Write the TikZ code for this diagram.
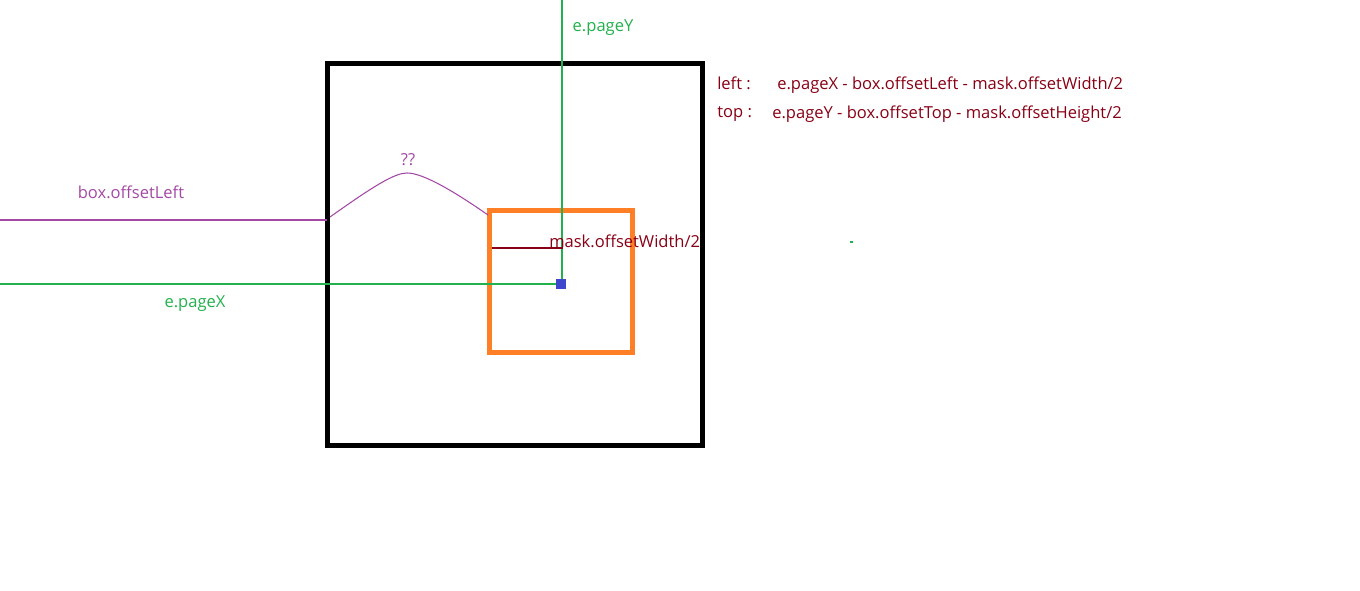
\documentclass[tikz,border=0pt]{standalone}
\usepackage{fontspec}
\setmainfont{Open Sans}
\definecolor{ggreen}{HTML}{22B14C}
\definecolor{gpurple}{HTML}{A349A4}
\definecolor{gorange}{HTML}{FF7F27}
\definecolor{gblue}{HTML}{3F48CC}
\definecolor{gred}{HTML}{880015}
\begin{document}
\begin{tikzpicture}[x=0.75pt,y=-0.75pt,
  lbl/.style={inner sep=0pt,font=\fontsize{12.4pt}{14pt}\selectfont},
  boxline/.style={line width=3.75pt,inner sep=0pt,outer sep=0pt,anchor=north west},
  hair/.style={line width=0.8pt}]
\useasboundingbox (0,0) rectangle (1360,591);
% boxes
\node[draw=black,boxline,minimum width=375*0.75pt,minimum height=382*0.75pt] (box) at (327.5,63.5) {};
\node[draw=gorange,boxline,minimum width=143*0.75pt,minimum height=142*0.75pt] (mask) at (489.5,210.5) {};
% coordinates
\coordinate (ytop) at (562,0);
\coordinate (cur) at (562,284);
\coordinate (xleft) at (0,284);
\coordinate (pleft) at (0,220);
\coordinate (pbox) at (327,220);
\coordinate (c1) at (330,217);
\coordinate (c2) at (488,215);
\coordinate (r1) at (492,248);
\coordinate (r2) at (563,248);
% lines
\draw[ggreen,hair] (ytop) -- (cur);
\draw[ggreen,hair] (cur) -- (xleft);
\draw[gpurple,hair] (pleft) -- (pbox);
\draw[gpurple,hair] (c1) .. controls (375,185) and (395,173) .. (407,173) .. controls (420,173) and (445,185) .. (c2);
\draw[gred,hair] (r1) -- (r2);
\node[fill=gblue,minimum size=10*0.75pt,inner sep=0pt] (dot) at (561,284) {};
\node[fill=ggreen,minimum width=3*0.75pt,minimum height=1.5*0.75pt,inner sep=0pt] (speck) at (851,242) {};
% labels
\node[lbl,text=ggreen] (pageY) at (603,28) {e.pageY};
\node[lbl,text=gpurple] (qq) at (408,160) {??};
\node[lbl,text=gpurple] (offL) at (131,192) {box.offsetLeft};
\node[lbl,text=ggreen] (pageX) at (195,304) {e.pageX};
\node[lbl,text=gred,anchor=west] (mw) at (549,241) {mask.offsetWidth/2};
\node[lbl,text=gred,anchor=west] (leftk) at (717,83) {left :};
\node[lbl,text=gred,anchor=west] (leftv) at (777,85) {e.pageX - box.offsetLeft - mask.offsetWidth/2};
\node[lbl,text=gred,anchor=west] (topk) at (717,114) {top :};
\node[lbl,text=gred,anchor=west] (topv) at (772,114) {e.pageY - box.offsetTop - mask.offsetHeight/2};
\end{tikzpicture}
\end{document}
